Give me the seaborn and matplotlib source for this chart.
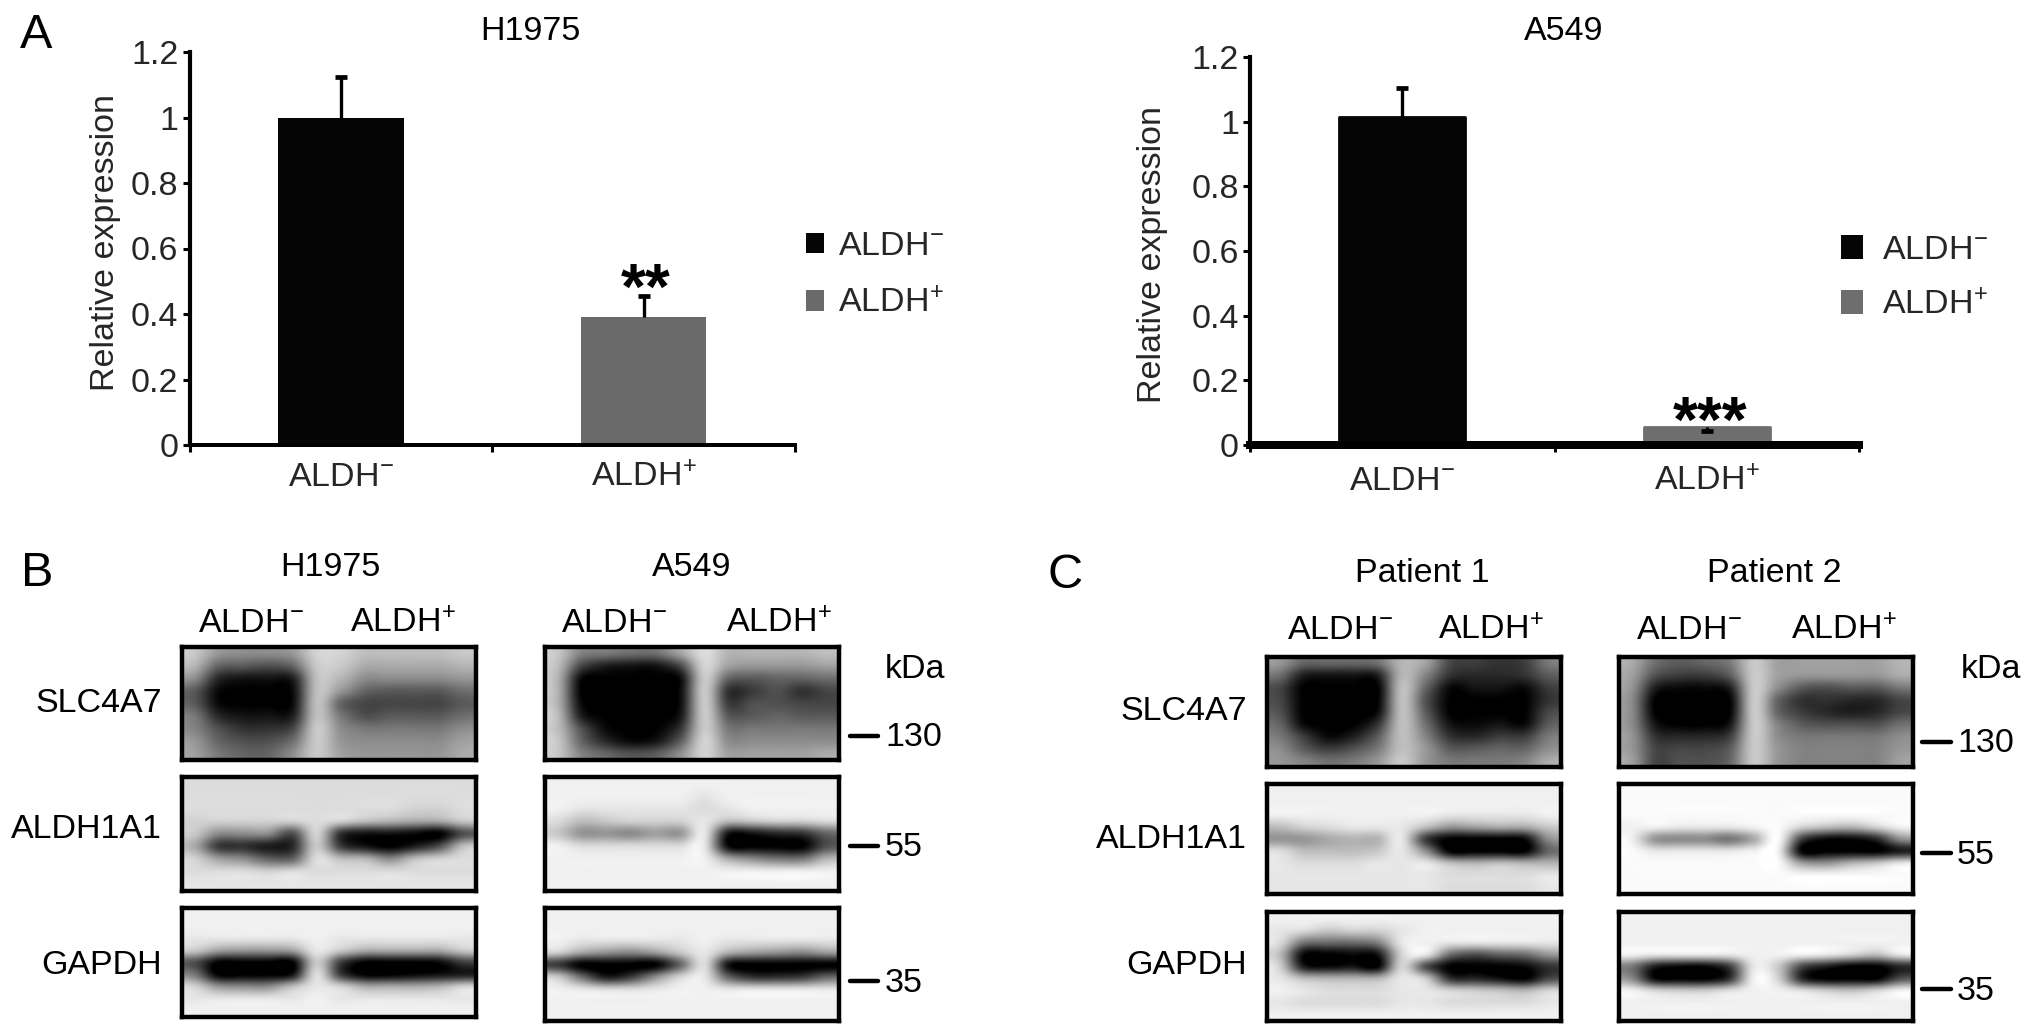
import matplotlib.pyplot as plt
import numpy as np
import pandas as pd
import seaborn as sns

W, H = 2032, 1035

# --- data ---
GROUPS = ["ALDH$^{-}$", "ALDH$^{+}$"]
H1975_MEAN = [1.0, 0.39]
H1975_ERR = [0.125, 0.065]
A549_MEAN = [1.013, 0.055]
A549_ERR = [0.09, -0.012]
Y_TICKS = [0, 0.2, 0.4, 0.6, 0.8, 1.0, 1.2]
Y_TICK_LABELS = ["0", "0.2", "0.4", "0.6", "0.8", "1", "1.2"]
PROTEINS = ["SLC4A7", "ALDH1A1", "GAPDH"]
MARKERS = ["130", "55", "35"]

# blot grey levels, in tens of 0-255 (9 rows, 12 columns)
H1975_SLC = [
    [20, 15, 14, 14, 15, 21, 21, 19, 19, 19, 19, 20],
    [18, 10, 9, 8, 10, 20, 20, 17, 17, 17, 17, 18],
    [14, 4, 2, 2, 3, 19, 18, 14, 14, 14, 14, 15],
    [9, 1, 0, 0, 1, 19, 15, 10, 9, 9, 9, 11],
    [9, 1, 0, 0, 1, 19, 10, 7, 7, 7, 7, 9],
    [12, 4, 2, 2, 3, 19, 12, 8, 9, 9, 9, 11],
    [13, 8, 5, 5, 7, 20, 14, 12, 12, 12, 12, 14],
    [15, 10, 8, 8, 11, 20, 15, 14, 14, 14, 14, 16],
    [16, 12, 10, 10, 14, 20, 16, 15, 15, 15, 15, 17],
]
H1975_ALDH = [
    [22, 22, 22, 22, 22, 22, 22, 22, 22, 22, 22, 22],
    [22, 22, 22, 22, 22, 22, 22, 22, 22, 22, 22, 22],
    [22, 22, 22, 22, 22, 22, 22, 22, 22, 21, 21, 22],
    [21, 21, 21, 21, 21, 22, 21, 19, 18, 17, 17, 20],
    [20, 14, 14, 14, 8, 21, 5, 2, 2, 1, 0, 8],
    [17, 6, 5, 3, 4, 20, 6, 2, 0, 3, 8, 19],
    [21, 16, 14, 10, 10, 22, 19, 18, 14, 19, 21, 22],
    [22, 22, 22, 21, 22, 22, 22, 22, 22, 22, 22, 22],
    [23, 23, 23, 23, 23, 23, 23, 23, 23, 23, 23, 23],
]
H1975_GAPDH = [
    [24, 24, 24, 24, 24, 24, 24, 24, 24, 24, 24, 24],
    [24, 24, 24, 24, 24, 24, 24, 24, 24, 24, 24, 24],
    [23, 23, 23, 23, 23, 24, 23, 23, 23, 23, 23, 23],
    [20, 16, 15, 15, 16, 23, 20, 17, 17, 17, 17, 20],
    [8, 0, 0, 0, 0, 20, 6, 0, 0, 0, 1, 6],
    [12, 0, 0, 0, 2, 22, 6, 0, 0, 1, 2, 3],
    [21, 15, 14, 14, 19, 23, 21, 17, 17, 17, 18, 21],
    [23, 23, 23, 23, 23, 24, 23, 23, 23, 23, 23, 23],
    [24, 24, 24, 24, 24, 24, 24, 24, 24, 24, 24, 24],
]
A549_SLC = [
    [20, 13, 12, 11, 11, 16, 22, 18, 18, 18, 18, 19],
    [19, 7, 3, 2, 2, 7, 21, 16, 15, 15, 15, 16],
    [18, 1, 0, 0, 0, 1, 20, 10, 9, 10, 10, 11],
    [18, 0, 0, 0, 0, 1, 20, 5, 6, 8, 5, 7],
    [18, 1, 0, 0, 0, 1, 20, 6, 8, 8, 7, 7],
    [19, 3, 0, 0, 0, 2, 20, 9, 9, 10, 9, 9],
    [19, 8, 1, 0, 0, 5, 20, 12, 12, 12, 12, 12],
    [20, 10, 4, 1, 2, 9, 21, 14, 14, 14, 14, 14],
    [20, 13, 10, 8, 9, 14, 21, 16, 16, 16, 16, 17],
]
A549_ALDH = [
    [24, 24, 24, 24, 24, 24, 24, 24, 24, 24, 24, 24],
    [24, 24, 24, 24, 24, 24, 23, 24, 24, 24, 24, 24],
    [24, 23, 23, 23, 23, 23, 22, 23, 24, 24, 24, 24],
    [22, 19, 20, 21, 21, 21, 23, 19, 20, 21, 21, 22],
    [20, 15, 15, 14, 16, 15, 23, 2, 2, 4, 5, 10],
    [24, 22, 22, 22, 22, 22, 23, 1, 0, 0, 0, 8],
    [24, 24, 24, 24, 24, 24, 24, 17, 14, 12, 12, 18],
    [24, 24, 24, 24, 24, 24, 24, 24, 24, 24, 24, 24],
    [24, 24, 24, 24, 24, 24, 24, 24, 24, 24, 24, 24],
]
A549_GAPDH = [
    [24, 24, 24, 24, 24, 24, 24, 24, 24, 24, 24, 24],
    [24, 24, 24, 24, 24, 24, 24, 24, 24, 24, 24, 24],
    [24, 23, 23, 23, 23, 23, 24, 23, 23, 23, 23, 23],
    [21, 17, 15, 14, 16, 20, 23, 18, 16, 15, 14, 16],
    [6, 0, 0, 0, 0, 10, 22, 2, 0, 0, 0, 0],
    [20, 11, 3, 6, 14, 21, 23, 10, 5, 5, 6, 10],
    [24, 23, 22, 22, 23, 24, 24, 23, 23, 23, 23, 23],
    [24, 24, 24, 24, 24, 24, 24, 24, 24, 24, 24, 24],
    [24, 24, 24, 24, 24, 24, 24, 24, 24, 24, 24, 24],
]
P1_SLC = [
    [15, 10, 10, 10, 11, 18, 16, 7, 6, 5, 6, 12],
    [11, 3, 2, 2, 3, 18, 13, 5, 4, 4, 5, 9],
    [7, 0, 0, 0, 0, 19, 10, 1, 2, 2, 1, 6],
    [7, 0, 0, 0, 0, 19, 8, 0, 0, 0, 0, 5],
    [8, 0, 0, 0, 1, 19, 9, 0, 0, 0, 0, 7],
    [10, 1, 0, 0, 5, 19, 11, 2, 1, 2, 1, 9],
    [12, 6, 1, 3, 9, 19, 13, 5, 4, 6, 6, 12],
    [14, 9, 6, 8, 12, 19, 15, 9, 9, 10, 10, 14],
    [15, 13, 11, 12, 15, 20, 15, 12, 12, 12, 13, 17],
]
P1_ALDH = [
    [24, 24, 24, 24, 24, 24, 24, 24, 24, 24, 24, 24],
    [24, 24, 24, 24, 24, 24, 24, 24, 24, 24, 24, 24],
    [24, 24, 24, 24, 24, 24, 24, 23, 23, 23, 23, 24],
    [19, 21, 22, 23, 23, 23, 19, 15, 16, 17, 17, 20],
    [15, 15, 17, 18, 18, 23, 6, 0, 0, 0, 1, 14],
    [22, 19, 19, 19, 20, 23, 14, 0, 0, 0, 0, 10],
    [23, 22, 22, 22, 23, 23, 23, 19, 18, 19, 18, 18],
    [23, 23, 23, 23, 23, 23, 23, 22, 22, 22, 22, 23],
    [23, 23, 23, 23, 23, 23, 23, 22, 22, 22, 22, 23],
]
P1_GAPDH = [
    [24, 24, 24, 24, 24, 24, 24, 24, 24, 24, 24, 24],
    [23, 22, 20, 21, 21, 23, 24, 24, 24, 24, 24, 24],
    [22, 12, 11, 11, 13, 23, 24, 23, 23, 23, 23, 23],
    [19, 1, 0, 1, 2, 21, 23, 11, 8, 10, 11, 15],
    [21, 3, 1, 2, 0, 21, 8, 0, 0, 0, 1, 5],
    [23, 19, 18, 18, 18, 23, 20, 5, 4, 2, 0, 7],
    [24, 23, 22, 22, 22, 23, 23, 21, 20, 19, 18, 21],
    [23, 22, 22, 22, 22, 23, 23, 22, 22, 22, 22, 23],
    [24, 24, 24, 24, 24, 24, 24, 24, 24, 24, 24, 24],
]
P2_SLC = [
    [17, 11, 9, 10, 12, 20, 16, 16, 16, 16, 16, 18],
    [16, 8, 6, 6, 9, 20, 16, 15, 15, 15, 15, 17],
    [15, 3, 1, 1, 3, 20, 14, 9, 8, 9, 9, 12],
    [14, 0, 0, 0, 0, 20, 10, 5, 5, 4, 4, 7],
    [14, 0, 0, 0, 0, 20, 10, 6, 4, 3, 4, 7],
    [14, 2, 0, 0, 2, 20, 13, 9, 8, 8, 8, 11],
    [15, 5, 4, 4, 6, 20, 14, 12, 12, 12, 12, 14],
    [15, 7, 7, 7, 9, 20, 15, 13, 13, 13, 13, 15],
    [16, 7, 8, 8, 10, 20, 15, 13, 13, 13, 13, 16],
]
P2_ALDH = [
    [25, 25, 25, 25, 25, 25, 25, 25, 25, 25, 25, 25],
    [25, 25, 25, 25, 25, 25, 25, 25, 25, 25, 25, 25],
    [25, 25, 25, 25, 25, 25, 25, 25, 25, 25, 25, 25],
    [24, 24, 23, 23, 23, 24, 25, 21, 19, 18, 21, 24],
    [24, 15, 14, 14, 12, 17, 25, 6, 1, 1, 4, 14],
    [25, 23, 23, 23, 23, 24, 24, 0, 0, 0, 0, 3],
    [25, 25, 25, 25, 25, 25, 25, 16, 15, 18, 20, 23],
    [25, 25, 25, 25, 25, 25, 25, 25, 25, 25, 25, 25],
    [25, 25, 25, 25, 25, 25, 25, 25, 25, 25, 25, 25],
]
P2_GAPDH = [
    [24, 24, 24, 24, 24, 24, 24, 24, 24, 24, 24, 24],
    [24, 24, 24, 24, 24, 24, 24, 24, 24, 24, 24, 24],
    [24, 24, 24, 24, 24, 24, 24, 24, 24, 24, 24, 24],
    [24, 23, 23, 23, 23, 24, 24, 24, 23, 21, 19, 23],
    [12, 3, 1, 1, 6, 23, 20, 7, 3, 0, 0, 4],
    [14, 1, 0, 0, 5, 24, 21, 4, 0, 0, 0, 8],
    [24, 21, 20, 20, 22, 24, 24, 22, 20, 19, 21, 24],
    [24, 24, 24, 24, 24, 24, 24, 24, 24, 24, 24, 24],
    [24, 24, 24, 24, 24, 24, 24, 24, 24, 24, 24, 24],
]

sns.set_theme(style="ticks")
plt.rcParams["font.family"] = ["Liberation Sans", "DejaVu Sans"]
plt.rcParams["mathtext.fontset"] = "custom"
plt.rcParams["mathtext.rm"] = "Liberation Sans"
plt.rcParams["mathtext.default"] = "rm"

FONT = 24.5
fig = plt.figure(figsize=(W / 100, H / 100), dpi=100, facecolor="white")


def px_axes(x0, x1, y0, y1):
    # pixel box, y counted from the top of the picture
    return fig.add_axes([x0 / W, 1 - y1 / H, (x1 - x0) / W, (y1 - y0) / H])


def put(x, y, text, size=FONT, ha="center", va="center", **kw):
    fig.text(x / W, 1 - (y + 2) / H, text, fontsize=size, ha=ha, va=va, color="black", **kw)


def bar_panel(box, means, errs, palette, spine_px, label_x, label_y, legend, rounded, pad):
    ax = px_axes(*box)
    df = pd.DataFrame({"group": GROUPS, "value": means})
    sns.barplot(
        data=df,
        x="group",
        y="value",
        hue="group",
        palette=palette,
        width=0.415,
        legend=True,
        linewidth=0,
        ax=ax,
    )
    xs = np.arange(len(means))
    tops = np.array(means) + np.array(errs)
    ax.vlines(xs, means, tops, color="black", lw=2.4, zorder=3)
    ax.hlines(tops, xs - 0.02, xs + 0.02, color="black", lw=3.4, zorder=3)

    ax.set_xlim(-0.5, 1.5)
    ax.set_ylim(0, 1.2)
    ax.set_yticks(Y_TICKS)
    ax.set_yticklabels(Y_TICK_LABELS, fontsize=FONT)
    ax.set_xticks([-0.5, 0.5, 1.5])
    ax.set_xticklabels([])
    ax.set_xticks(xs, GROUPS, minor=True, fontsize=FONT)
    ax.tick_params(axis="x", which="minor", length=0, pad=pad)
    ax.tick_params(axis="x", which="major", length=5, width=2.2, color="black")
    ax.tick_params(axis="y", length=5, width=2.2, color="black", pad=3)
    ax.set_xlabel("")
    ax.set_ylabel("Relative expression", fontsize=FONT)
    ax.yaxis.set_label_coords(label_x, label_y)
    sns.despine(ax=ax)
    ax.spines["left"].set_linewidth(3.0)
    ax.spines["bottom"].set_linewidth(spine_px / 1.39)
    ax.spines["bottom"].set_zorder(4)
    ax.spines["left"].set_color("black")
    ax.spines["bottom"].set_color("black")

    if rounded:
        for patch in ax.patches:
            patch.set_edgecolor(patch.get_facecolor())
            patch.set_linewidth(2)
            patch.set_joinstyle("round")

    x, y, length, height, text_pad, gap = legend
    sns.move_legend(
        ax,
        loc="upper left",
        bbox_to_anchor=(x / W, 1 - y / H),
        bbox_transform=fig.transFigure,
        frameon=False,
        title=None,
        fontsize=FONT,
        handlelength=length,
        handleheight=height,
        handletextpad=text_pad,
        labelspacing=gap,
        borderaxespad=0,
        borderpad=0,
    )
    return ax


# --- A: bar charts ---
bar_panel((189.5, 795, 52, 445), H1975_MEAN, H1975_ERR, ["#050505", "#6a6a6a"], 4,
          -0.113, 0.515, (806, 231, 0.53, 0.55, 0.41, 0.77), False, 12)
bar_panel((1250, 1859, 57, 445), A549_MEAN, A549_ERR, ["#050505", "#6e6e6e"], 8,
          -0.135, 0.49, (1841, 235, 0.65, 0.7, 0.55, 0.7), True, 15)

put(530, 29, "H1975")
put(1564, 29, "A549")
put(646, 290, "**", size=46, fontweight="bold")
put(1710, 423, "***", size=46, fontweight="bold")

# --- B, C: blots ---
PANELS = [
    (182, 476, [(647, 760), (777, 891), (908, 1017)], [H1975_SLC, H1975_ALDH, H1975_GAPDH]),
    (545, 839, [(647, 760), (777, 891), (908, 1021)], [A549_SLC, A549_ALDH, A549_GAPDH]),
    (1267, 1561, [(657, 767), (784, 894), (912, 1021)], [P1_SLC, P1_ALDH, P1_GAPDH]),
    (1619, 1913, [(657, 767), (784, 894), (912, 1021)], [P2_SLC, P2_ALDH, P2_GAPDH]),
]
for x0, x1, rows, grids in PANELS:
    for (y0, y1), grid in zip(rows, grids):
        ax = px_axes(x0, x1, y0, y1)
        ax.imshow(
            np.array(grid) * 10,
            cmap="gray",
            vmin=0,
            vmax=255,
            aspect="auto",
            interpolation="catrom",
        )
        ax.set_xticks([])
        ax.set_yticks([])
        for spine in ax.spines.values():
            spine.set_linewidth(3.2)
            spine.set_color("black")

for name, y in zip(PROTEINS, [702, 828, 963]):
    put(162, y, name, ha="right")
for name, y in zip(PROTEINS, [710, 837, 963]):
    put(1247, y, name, ha="right")

put(330, 565, "H1975")
put(692, 565, "A549")
put(1422, 571, "Patient 1")
put(1774, 571, "Patient 2")

for x, label in zip([198, 350, 561, 726], GROUPS * 2):
    put(x, 630, label, ha="left", va="baseline")
for x, label in zip([1287, 1438, 1636, 1791], GROUPS * 2):
    put(x, 637, label, ha="left", va="baseline")

put(885, 667, "kDa", ha="left")
put(1961, 668, "kDa", ha="left")
for marker, y in zip(MARKERS, [736, 846, 981]):
    fig.add_artist(plt.Line2D([850 / W, 878 / W], [1 - y / H, 1 - y / H], color="black", lw=3.2))
    put(885, y, marker, ha="left")
for marker, y in zip(MARKERS, [742, 853, 989]):
    fig.add_artist(plt.Line2D([1922 / W, 1951 / W], [1 - y / H, 1 - y / H], color="black", lw=3.2))
    put(1957, y, marker, ha="left")

put(20, 33, "A", size=35, ha="left")
put(21, 572, "B", size=35, ha="left")
put(1048, 574, "C", size=35, ha="left")

fig.savefig("out.png", dpi=100, facecolor="white")
